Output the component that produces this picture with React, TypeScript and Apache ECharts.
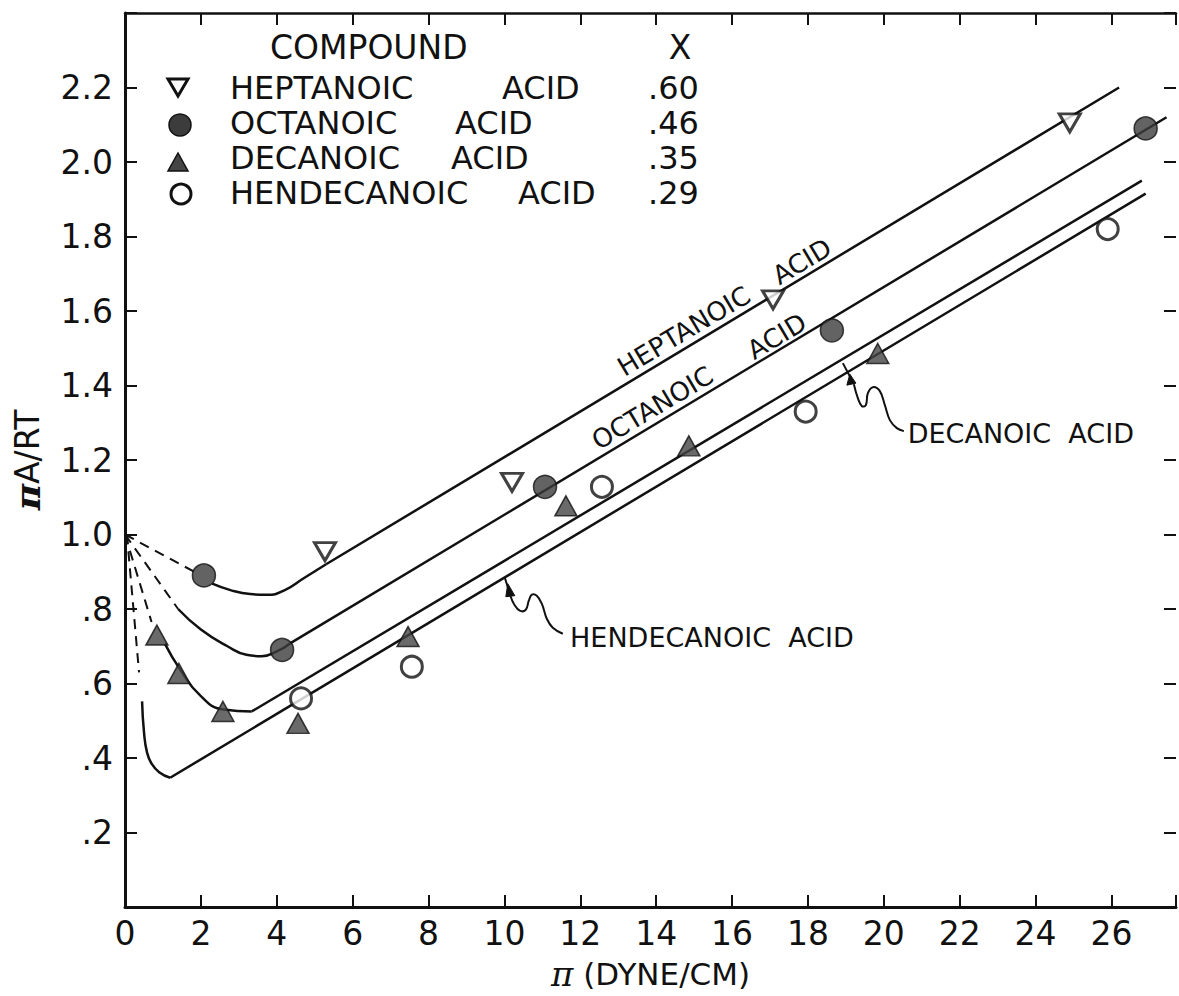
import React, { useEffect, useRef } from 'react';
import * as echarts from 'echarts';

// ---- data ----
const compounds = ['HEPTANOIC ACID', 'OCTANOIC ACID', 'DECANOIC ACID', 'HENDECANOIC ACID'];
const xValues = ['.60', '.46', '.35', '.29'];

const heptPoints = [[5.27, 0.954], [10.2, 1.14], [17.08, 1.63], [24.9, 2.105]];
const octPoints = [[2.08, 0.89], [4.14, 0.69], [11.07, 1.128], [18.63, 1.548], [26.9, 2.09]];
const decPoints = [[0.84, 0.73], [1.42, 0.627], [2.58, 0.525], [4.56, 0.493], [7.46, 0.726], [11.62, 1.077], [14.86, 1.238], [19.84, 1.486]];
const hendPoints = [[4.64, 0.56], [7.56, 0.645], [12.57, 1.128], [17.94, 1.33], [25.9, 1.82]];

// curved low-pressure parts of the fitted lines
const heptCurve = [[2.3, 0.868], [2.8, 0.85], [3.3, 0.84], [3.75, 0.838], [4.2, 0.85], [4.7, 0.882], [5.3, 0.92]];
const octCurve = [[1.4, 0.8], [2.0, 0.745], [2.7, 0.7], [3.2, 0.677], [3.6, 0.673], [4.0, 0.686], [4.34, 0.707]];
const decCurve = [[1.05, 0.707], [1.45, 0.638], [2.0, 0.566], [2.6, 0.53], [3.34, 0.525]];
const hendCurve = [[0.45, 0.552], [0.5, 0.47], [0.58, 0.415], [0.7, 0.385], [0.9, 0.362], [1.19, 0.347]];

// straight high-pressure parts
const heptLine = [[5.3, 0.92], [26.2, 2.2]];
const octLine = [[4.34, 0.707], [27.45, 2.12]];
const decLine = [[3.34, 0.525], [26.8, 1.95]];
const hendLine = [[1.19, 0.347], [26.9, 1.915]];

// dashed extrapolations to πA/RT = 1 at π = 0
const heptDash = [[0, 1.0], [1.95, 0.893]];
const octDash = [[0, 1.0], [1.4, 0.8]];
const decDash = [[0, 1.0], [0.7, 0.765]];
const hendDash = [[0.05, 1.0], [0.37, 0.63]];

const xTicks = [0, 2, 4, 6, 8, 10, 12, 14, 16, 18, 20, 22, 24, 26];

const FONT = 'DejaVu Sans';
const INK = '#111';

export default function App() {
  const ref = useRef<HTMLDivElement>(null);

  useEffect(() => {
    if (!ref.current) return;
    const chart = echarts.init(ref.current, undefined, { renderer: 'svg' });

    const curveSeries = (data: number[][]) => ({
      type: 'line', data, symbol: 'none', showSymbol: false, smooth: 0.5,
      lineStyle: { color: INK, width: 2.5 }, z: 2, silent: true,
    });
    const lineSeries = (data: number[][]) => ({
      type: 'line', data, symbol: 'none', showSymbol: false, smooth: false,
      lineStyle: { color: INK, width: 2.5 }, z: 2, silent: true,
    });
    const dashSeries = (data: number[][]) => ({
      type: 'line', data, symbol: 'none', showSymbol: false,
      lineStyle: { color: INK, width: 2, type: [10, 7] }, z: 2, silent: true,
    });

    const xAxisCommon = {
      type: 'value', min: 0, max: 27.7, interval: 2,
      splitLine: { show: false },
      axisLine: { show: true, onZero: false, lineStyle: { color: INK, width: 3 } },
      axisTick: { show: true, inside: true, length: 12, lineStyle: { color: INK, width: 2 } },
    };
    const yAxisCommon = {
      type: 'value', min: 0, max: 2.4, interval: 0.2,
      splitLine: { show: false },
      axisLine: { show: true, onZero: false, lineStyle: { color: INK, width: 3 } },
      axisTick: { show: true, inside: true, length: 12, lineStyle: { color: INK, width: 2 } },
    };

    const option: any = {
      animation: false,
      backgroundColor: '#ffffff',
      grid: { left: 125, top: 13, right: -1, bottom: 87 },
      xAxis: [
        {
          ...xAxisCommon, position: 'bottom',
          axisLabel: {
            margin: 10, fontSize: 33, fontFamily: FONT, color: INK,
            formatter: (v: number) => {
              const r = Math.round(v * 100) / 100;
              return xTicks.includes(r) ? String(r) : '';
            },
          },
          name: '{p|π} (DYNE/CM)', nameLocation: 'middle', nameGap: 50,
          nameTextStyle: {
            fontSize: 31, fontFamily: FONT, color: INK,
            rich: { p: { fontSize: 34, fontFamily: 'DejaVu Serif', fontStyle: 'italic', color: INK } },
          },
        },
        { ...xAxisCommon, position: 'top', axisLine: { ...xAxisCommon.axisLine, lineStyle: { color: INK, width: 2.5 } }, axisLabel: { show: false } },
      ],
      yAxis: [
        {
          ...yAxisCommon, position: 'left',
          axisLabel: {
            margin: 12, fontSize: 33, fontFamily: FONT, color: INK,
            formatter: (v: number) => {
              const r = Math.round(v * 10) / 10;
              if (r <= 0 || r >= 2.4) return '';
              return r < 1 ? '.' + Math.round(r * 10) : r.toFixed(1);
            },
          },
          name: '{p|π}A/RT', nameLocation: 'middle', nameGap: 80, nameRotate: 90,
          nameTextStyle: {
            fontSize: 33, fontFamily: FONT, color: INK,
            rich: { p: { fontSize: 36, fontFamily: 'DejaVu Serif', fontStyle: 'italic', fontWeight: 'bold', color: INK } },
          },
        },
        { ...yAxisCommon, position: 'right', axisLine: { show: false, onZero: false }, axisLabel: { show: false } },
      ],
      series: [
        curveSeries(heptCurve),
        curveSeries(octCurve),
        curveSeries(decCurve),
        curveSeries(hendCurve),
        lineSeries(heptLine),
        lineSeries(octLine),
        lineSeries(decLine),
        lineSeries(hendLine),
        dashSeries(heptDash),
        dashSeries(octDash),
        dashSeries(decDash),
        dashSeries(hendDash),
        {
          name: compounds[0], type: 'scatter', data: heptPoints, z: 4,
          symbol: 'path://M0,0L20,0L10,17Z', symbolSize: [21, 18],
          itemStyle: { color: '#ffffff', borderColor: INK, borderWidth: 3 },
        },
        {
          name: compounds[1], type: 'scatter', data: octPoints, z: 4,
          symbol: 'circle', symbolSize: 23,
          itemStyle: { color: '#3c3c3c', borderColor: INK, borderWidth: 1.5 },
        },
        {
          name: compounds[2], type: 'scatter', data: decPoints, z: 4,
          symbol: 'triangle', symbolSize: [22, 20],
          itemStyle: { color: '#454545', borderColor: INK, borderWidth: 1.5 },
        },
        {
          name: compounds[3], type: 'scatter', data: hendPoints, z: 4,
          symbol: 'circle', symbolSize: 21,
          itemStyle: { color: '#ffffff', borderColor: INK, borderWidth: 3 },
        },
      ],
    };

    chart.setOption(option);

    const toPx = (p: number[]) => chart.convertToPixel({ seriesIndex: 0 }, p) as number[];
    const p0 = toPx([5, 1]);
    const p1 = toPx([25, 1 + 20 * 0.0608]);
    const ang = Math.atan2(p0[1] - p1[1], p1[0] - p0[0]);

    const txt = (text: string, x: number, y: number, size: number, extra: any = {}) => ({
      type: 'text', x, y, silent: true, z: 10,
      style: { text, fontSize: size, lineHeight: size, fontFamily: FONT, fill: INK, verticalAlign: 'middle', align: 'left', ...extra },
    });
    const rotTxt = (text: string, c: number[], size: number) => ({
      type: 'text', x: c[0], y: c[1], rotation: ang, silent: true, z: 10,
      style: { text, fontSize: size, fontFamily: FONT, fill: INK, align: 'center', verticalAlign: 'middle' },
    });

    const leader = (tip: number[], tick: number[][], squig: number[][], arrow: number[][]) => ({
      type: 'group', x: tip[0], y: tip[1], silent: true, children: [
        { type: 'polyline', shape: { points: tick }, style: { stroke: INK, lineWidth: 2, fill: 'none' } },
        { type: 'polyline', shape: { points: squig, smooth: 0.4 }, style: { stroke: INK, lineWidth: 2, fill: 'none' } },
        { type: 'polygon', shape: { points: arrow }, style: { fill: INK, stroke: INK, lineWidth: 1 } },
      ],
    });

    const legendRows = [
      { y: 88, acidX: 502 },
      { y: 123, acidX: 455 },
      { y: 158, acidX: 451 },
      { y: 193, acidX: 518 },
    ];

    const graphic: any[] = [
      txt('COMPOUND', 270, 47, 33),
      txt('X', 680, 47, 33, { align: 'center' }),
      // legend markers
      { type: 'polygon', shape: { points: [[168, 79], [188, 79], [178, 96]] }, style: { fill: '#fff', stroke: INK, lineWidth: 3 } },
      { type: 'circle', shape: { cx: 180, cy: 125, r: 11 }, style: { fill: '#3c3c3c', stroke: INK, lineWidth: 1.5 } },
      { type: 'polygon', shape: { points: [[168, 171], [188, 171], [178, 153]] }, style: { fill: '#454545', stroke: INK, lineWidth: 1.5 } },
      { type: 'circle', shape: { cx: 181, cy: 194, r: 10 }, style: { fill: '#fff', stroke: INK, lineWidth: 3 } },
    ];
    compounds.forEach((c, i) => {
      const [w1, w2] = c.split(' ');
      graphic.push(txt(w1, 230, legendRows[i].y, 32));
      graphic.push(txt(w2, legendRows[i].acidX, legendRows[i].y, 32));
      graphic.push(txt(xValues[i], 648, legendRows[i].y, 32));
    });

    // line annotations
    graphic.push(rotTxt('HEPTANOIC', toPx([14.73, 1.546]), 26));
    graphic.push(rotTxt('ACID', toPx([17.84, 1.733]), 26));
    graphic.push(rotTxt('OCTANOIC', toPx([13.9, 1.34]), 26));
    graphic.push(rotTxt('ACID', toPx([17.18, 1.532]), 26));

    const decLeft = toPx([20.63, 1.272]);
    graphic.push(txt('DECANOIC  ACID', decLeft[0], decLeft[1], 27));
    const hendLeft = toPx([11.73, 0.723]);
    graphic.push(txt('HENDECANOIC  ACID', hendLeft[0], hendLeft[1], 27));

    graphic.push(leader(
      toPx([18.92, 1.46]),
      [[0, 0], [11, 21]],
      [[11, 21], [15, 35], [19, 43], [23, 42], [25, 30], [30, 24], [37, 28], [42, 42], [47, 57], [54, 65], [61, 68]],
      [[7, 11], [4, 22], [13, 20]],
    ));
    graphic.push(leader(
      toPx([10.01, 0.884]),
      [[0, 0], [6, 19]],
      [[6, 19], [9, 26], [15, 33], [21, 32], [24, 23], [27, 17], [32, 18], [37, 26], [42, 41], [48, 50], [58, 56]],
      [[3, 6], [1, 19], [10, 18]],
    ));

    chart.setOption({ graphic });

    return () => chart.dispose();
  }, []);

  return <div ref={ref} style={{ position: 'fixed', left: 0, top: 0, width: 1179, height: 996, background: '#fff' }} />;
}
